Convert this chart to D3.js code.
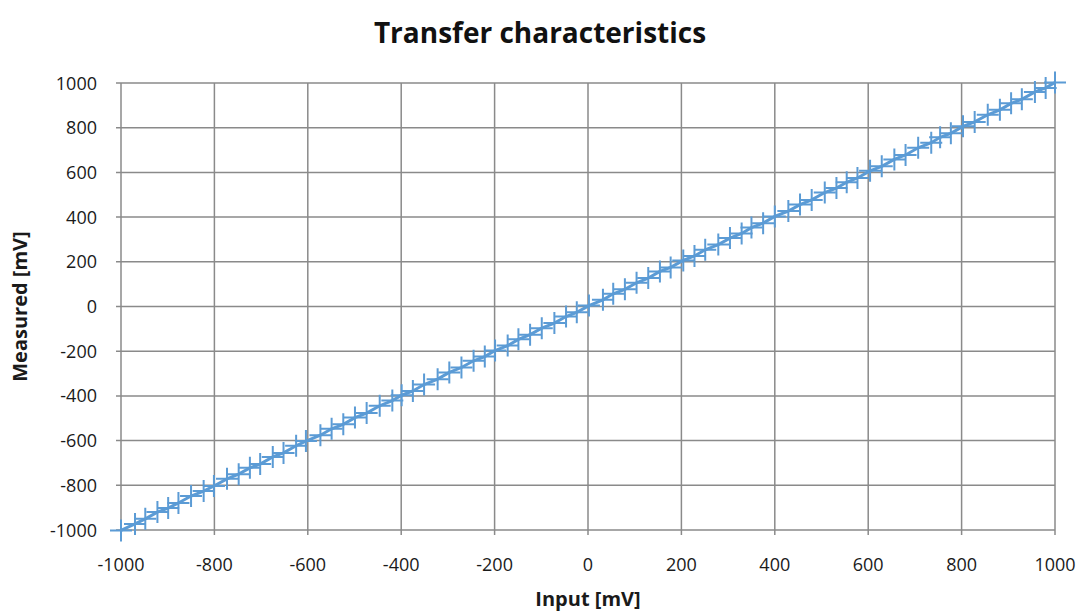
<!DOCTYPE html>
<html>
<head>
<meta charset="utf-8">
<script src="https://cdn.jsdelivr.net/npm/d3@7"></script>
<style>
  body { margin: 0; background: #fff; }
  svg text { font-family: "Open Sans", "Noto Sans", sans-serif; }
</style>
</head>
<body>
<script>
// input voltage [mV]
const inputs = [
  -1000, -970, -948, -922, -899, -877, -850, -823, -801, -773, -748, -724, -702, -675, -652, -625,
  -604, -573, -549, -524, -499, -474, -446, -419, -399, -375, -351, -322, -297, -271, -245, -221,
  -199, -172, -149, -124, -99, -72, -47, -24, 2, 32, 54, 79, 104, 129, 154, 177,
  204, 228, 251, 279, 304, 329, 350, 375, 400, 429, 454, 479, 507, 532, 554, 577,
  604, 629, 656, 680, 707, 735, 754, 777, 803, 828, 856, 882, 906, 929, 957, 980, 1000
];
// measured voltage [mV]
const measured = [
  -1002, -973, -950, -920, -902, -879, -848, -826, -803, -771, -750, -722, -705, -673, -655, -623,
  -602, -576, -547, -527, -497, -477, -444, -421, -397, -378, -349, -325, -295, -273, -243, -224,
  -197, -175, -147, -126, -97, -74, -45, -26, 4, 30, 57, 77, 106, 127, 157, 175,
  206, 226, 254, 277, 306, 327, 353, 373, 403, 427, 456, 477, 510, 530, 556, 575,
  607, 627, 658, 678, 710, 733, 757, 775, 806, 826, 858, 880, 909, 927, 960, 978, 1002
];
const xTicks = [-1000, -800, -600, -400, -200, 0, 200, 400, 600, 800, 1000];
const yTicks = [-1000, -800, -600, -400, -200, 0, 200, 400, 600, 800, 1000];

const width = 1081, height = 611;
const margin = { left: 121, right: 26, top: 83, bottom: 81 };

const svg = d3.select("body").append("svg")
    .attr("width", width)
    .attr("height", height);

const x = d3.scaleLinear().domain([-1000, 1000]).range([margin.left, width - margin.right]);
const y = d3.scaleLinear().domain([-1000, 1000]).range([height - margin.bottom, margin.top]);

// grid
svg.append("g").selectAll("line")
    .data(xTicks)
    .enter().append("line")
    .attr("x1", d => x(d)).attr("x2", d => x(d))
    .attr("y1", y(1000)).attr("y2", y(-1000) + 5)
    .attr("stroke", "#8a8a8a").attr("stroke-width", 1.5);

svg.append("g").selectAll("line")
    .data(yTicks)
    .enter().append("line")
    .attr("x1", x(-1000) - 5).attr("x2", x(1000))
    .attr("y1", d => y(d)).attr("y2", d => y(d))
    .attr("stroke", "#8a8a8a").attr("stroke-width", 1.5);

// tick labels
svg.append("g").selectAll("text")
    .data(xTicks)
    .enter().append("text")
    .attr("x", d => x(d))
    .attr("y", y(-1000) + 41)
    .attr("text-anchor", "middle")
    .attr("font-size", 18)
    .attr("fill", "#1a1a1a")
    .text(d => d);

svg.append("g").selectAll("text")
    .data(yTicks)
    .enter().append("text")
    .attr("x", x(-1000) - 24)
    .attr("y", d => y(d) + 6.5)
    .attr("text-anchor", "end")
    .attr("font-size", 18)
    .attr("fill", "#1a1a1a")
    .text(d => d);

// series
const pts = inputs.map((v, i) => [v, measured[i]]);

svg.append("path")
    .datum(pts)
    .attr("fill", "none")
    .attr("stroke", "#5b9bd5")
    .attr("stroke-width", 3)
    .attr("d", d3.line().x(d => x(d[0])).y(d => y(d[1])));

svg.append("g").selectAll("path")
    .data(pts)
    .enter().append("path")
    .attr("transform", d => `translate(${x(d[0])},${y(d[1])})`)
    .attr("d", "M-11,0H11M0,-11V11")
    .attr("stroke", "#5b9bd5")
    .attr("stroke-width", 2)
    .attr("fill", "none");

// titles
svg.append("text")
    .attr("x", 540).attr("y", 43)
    .attr("text-anchor", "middle")
    .attr("font-size", 28)
    .attr("font-weight", "bold")
    .attr("fill", "#111")
    .text("Transfer characteristics");

svg.append("text")
    .attr("x", x(0)).attr("y", 606)
    .attr("text-anchor", "middle")
    .attr("font-size", 20)
    .attr("font-weight", "bold")
    .attr("fill", "#1a1a1a")
    .text("Input [mV]");

svg.append("text")
    .attr("transform", `translate(27,${y(0)}) rotate(-90)`)
    .attr("text-anchor", "middle")
    .attr("font-size", 20)
    .attr("font-weight", "bold")
    .attr("fill", "#1a1a1a")
    .text("Measured [mV]");
</script>
</body>
</html>
